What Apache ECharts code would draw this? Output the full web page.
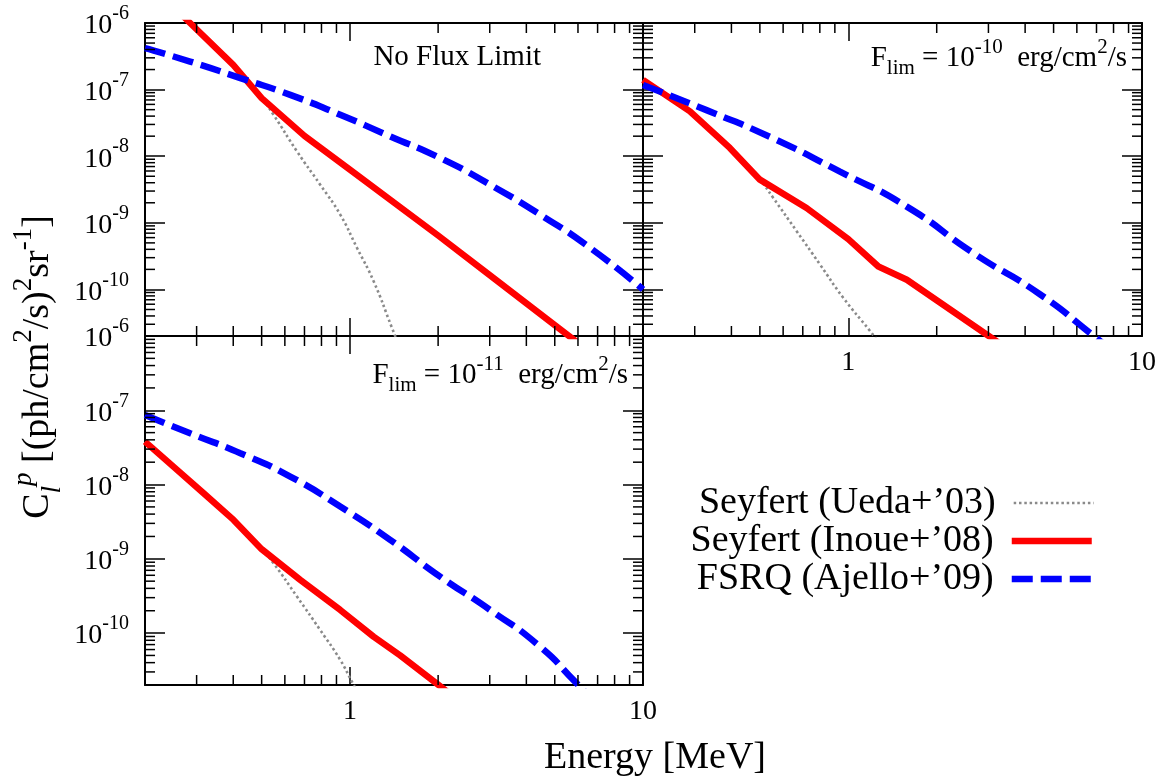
<!DOCTYPE html>
<html><head><meta charset="utf-8">
<script src="https://cdn.jsdelivr.net/npm/echarts@6/dist/echarts.min.js"></script>
<style>html,body{margin:0;padding:0;background:#fff}#c{width:1163px;height:778px}</style>
</head><body><div id="c"></div>
<script>
const FONT = 'Liberation Serif';

// Axis ranges (Energy in MeV, C_l^p)
const X_MIN = 0.2, X_MAX = 10;
const Y_MIN = 2e-11, Y_MAX = 1e-6;

// Legend names
const NAME_UEDA = 'Seyfert (Ueda+\u201903)';
const NAME_INOUE = 'Seyfert (Inoue+\u201908)';
const NAME_AJELLO = 'FSRQ (Ajello+\u201909)';

// Panel titles
const PANEL_TITLES = ['No Flux Limit', '-10', '-11'];

// ---- Panel 1: No Flux Limit ----
const p1UedaE  = [0.2, 0.285, 0.4, 0.5, 0.549, 0.66, 0.792, 0.927, 1.057, 1.204, 1.391, 1.5];
const p1UedaC  = [4.7e-6, 1.0e-6, 2.35e-7, 7.45e-8, 4.19e-8, 1.18e-8, 3.74e-9, 1.33e-9, 4.22e-10, 1.34e-10, 2.67e-11, 1.15e-11];
const p1InoueE = [0.2, 0.285, 0.4, 0.5, 0.7, 1.0, 2.0, 3.0, 5.0, 10];
const p1InoueC = [4.7e-6, 1.0e-6, 2.35e-7, 7.45e-8, 2.02e-8, 6.3e-9, 6.45e-10, 1.64e-10, 2.92e-11, 2.8e-12];
const p1AjelloE = [0.2, 0.285, 0.423, 0.626, 0.927, 1.372, 2.032, 3.008, 4.455, 6.596, 10];
const p1AjelloC = [4.18e-7, 2.64e-7, 1.49e-7, 8.34e-8, 4.19e-8, 1.99e-8, 9.4e-9, 3.74e-9, 1.33e-9, 4.22e-10, 1.0e-10];

// ---- Panel 2: F_lim = 1e-10 ----
const p2UedaE  = [0.2, 0.289, 0.395, 0.5, 0.555, 0.667, 0.801, 0.961, 1.186, 1.3];
const p2UedaC  = [1.4e-7, 4.71e-8, 1.33e-8, 4.45e-9, 2.37e-9, 7.5e-10, 2.37e-10, 7.5e-11, 2.38e-11, 1.4e-11];
const p2InoueE = [0.2, 0.289, 0.395, 0.5, 0.721, 1.0, 1.266, 1.582, 2.965, 4.0];
const p2InoueC = [1.4e-7, 4.71e-8, 1.33e-8, 4.45e-9, 1.67e-9, 5.7e-10, 2.21e-10, 1.40e-10, 2.09e-11, 8.5e-12];
const p2AjelloE = [0.2, 0.329, 0.555, 0.937, 1.582, 2.668, 4.504, 6.76, 8.0];
const p2AjelloC = [1.17e-7, 4.92e-8, 1.85e-8, 5.86e-9, 1.75e-9, 3.51e-10, 8.41e-11, 2.1e-11, 1.15e-11];

// ---- Panel 3: F_lim = 1e-11 ----
const p3UedaE  = [0.2, 0.25, 0.317, 0.401, 0.5, 0.549, 0.66, 0.792, 0.927, 1.016, 1.1];
const p3UedaC  = [3.78e-8, 1.74e-8, 7.64e-9, 3.34e-9, 1.35e-9, 8.7e-10, 3.1e-10, 1.1e-10, 4.36e-11, 2.22e-11, 1.25e-11];
const p3InoueE = [0.2, 0.25, 0.317, 0.401, 0.5, 0.677, 0.927, 1.204, 1.484, 2.005, 3.0];
const p3InoueC = [3.78e-8, 1.74e-8, 7.64e-9, 3.34e-9, 1.35e-9, 5.2e-10, 2.05e-10, 8.97e-11, 5.0e-11, 2.01e-11, 5.8e-12];
const p3AjelloE = [0.2, 0.285, 0.423, 0.626, 0.927, 1.372, 2.032, 3.008, 4.455, 5.864, 7.0];
const p3AjelloC = [8.65e-8, 4.9e-8, 2.64e-8, 1.28e-8, 5.05e-9, 1.8e-9, 5.75e-10, 2.05e-10, 6.58e-11, 2.22e-11, 1.1e-11];

// Minor tick values (gnuplot style 2..9 per decade)
const MINOR_MANT = [2, 3, 4, 5, 6, 7, 8, 9];
const X_DECADES = [0.1, 1];
const Y_DECADES = [1e-11, 1e-10, 1e-9, 1e-8, 1e-7];

const minorX = [], minorY = [];
X_DECADES.forEach(d => MINOR_MANT.forEach(m => { const v = m * d; if (v > X_MIN * 1.0001 && v < X_MAX * 0.9999) minorX.push(v); }));
Y_DECADES.forEach(d => MINOR_MANT.forEach(m => { const v = m * d; if (v > Y_MIN * 1.0001 && v < Y_MAX * 0.9999) minorY.push(v); }));

const grids = [
  { left: 145, top: 23, width: 498, height: 313 },
  { left: 643, top: 23, width: 499, height: 313 },
  { left: 145, top: 336, width: 498, height: 349 }
];
const showXLabel = [false, true, true];
const showYLabel = [true, false, true];

function isDecade(v) { const l = Math.log10(v); return Math.abs(l - Math.round(l)) < 1e-6; }
function fmtY(v) { if (!isDecade(v) || v < Y_MIN * 1.5) return ''; return '{b|10}{s|' + Math.round(Math.log10(v)) + '}'; }
function fmtX(v) { if (!isDecade(v) || v < X_MIN * 1.5) return ''; return String(Math.round(v)); }

const axisLine = { show: true, onZero: false, lineStyle: { color: '#000', width: 2 } };
const xAxes = [], yAxes = [];
grids.forEach((g, i) => {
  ['bottom', 'top'].forEach((pos, k) => {
    xAxes.push({
      type: 'log', logBase: 10, gridIndex: i, position: pos, min: X_MIN, max: X_MAX,
      axisLine, splitLine: { show: false }, minorTick: { show: false },
      axisTick: { show: true, inside: true, length: 18, lineStyle: { color: '#000', width: 1.5 } },
      axisLabel: { show: k === 0 && showXLabel[i], formatter: fmtX, fontFamily: FONT, fontSize: 28, color: '#000', margin: 13, showMinLabel: true, showMaxLabel: true }
    });
  });
  ['left', 'right'].forEach((pos, k) => {
    yAxes.push({
      type: 'log', logBase: 10, gridIndex: i, position: pos, min: Y_MIN, max: Y_MAX,
      axisLine, splitLine: { show: false }, minorTick: { show: false },
      axisTick: { show: true, inside: true, length: 20, lineStyle: { color: '#000', width: 1.5 } },
      axisLabel: {
        show: k === 0 && showYLabel[i], formatter: fmtY, margin: 16, showMinLabel: true, showMaxLabel: true,
        rich: {
          b: { fontFamily: FONT, fontSize: 28, color: '#000', lineHeight: 38, padding: [6, 0, 0, 0] },
          s: { fontFamily: FONT, fontSize: 20, color: '#000', lineHeight: 30, verticalAlign: 'top' }
        }
      }
    });
  });
});

function minorTickSeries(i) {
  const data = minorX.map(v => [v, 1e-8, 0]).concat(minorY.map(v => [1, v, 1]));
  return {
    type: 'custom', xAxisIndex: 2 * i, yAxisIndex: 2 * i, silent: true, z: 5, data,
    renderItem: function (params, api) {
      const cs = params.coordSys;
      const p = api.coord([api.value(0), api.value(1)]);
      const st = { stroke: '#000', lineWidth: 1.5 };
      const L = 10;
      if (api.value(2) === 0) {
        return { type: 'group', children: [
          { type: 'line', shape: { x1: p[0], y1: cs.y + cs.height, x2: p[0], y2: cs.y + cs.height - L }, style: st },
          { type: 'line', shape: { x1: p[0], y1: cs.y, x2: p[0], y2: cs.y + L }, style: st }
        ] };
      }
      return { type: 'group', children: [
        { type: 'line', shape: { x1: cs.x, y1: p[1], x2: cs.x + L, y2: p[1] }, style: st },
        { type: 'line', shape: { x1: cs.x + cs.width, y1: p[1], x2: cs.x + cs.width - L, y2: p[1] }, style: st }
      ] };
    }
  };
}

const STYLE_UEDA = { color: '#8a8a8a', width: 2.6, type: [2.5, 2.8], cap: 'butt' };
const STYLE_INOUE = { color: '#ff0000', width: 6.5, type: 'solid', join: 'round' };
const STYLE_AJELLO = { color: '#0000ff', width: 6.5, type: [21, 8], cap: 'butt' };

function lineSeries(i, name, E, C, style, smooth, z) {
  return {
    type: 'line', name, xAxisIndex: 2 * i, yAxisIndex: 2 * i,
    data: E.map((e, k) => [e, C[k]]), showSymbol: false, symbol: 'none',
    smooth, clip: true, silent: true, z, lineStyle: style, itemStyle: { color: style.color }
  };
}

const panels = [
  [p1UedaE, p1UedaC, p1InoueE, p1InoueC, p1AjelloE, p1AjelloC],
  [p2UedaE, p2UedaC, p2InoueE, p2InoueC, p2AjelloE, p2AjelloC],
  [p3UedaE, p3UedaC, p3InoueE, p3InoueC, p3AjelloE, p3AjelloC]
];
const series = [];
panels.forEach((p, i) => {
  series.push(lineSeries(i, NAME_UEDA, p[0], p[1], STYLE_UEDA, 0.5, 2));
  series.push(lineSeries(i, NAME_INOUE, p[2], p[3], STYLE_INOUE, false, 3));
  series.push(lineSeries(i, NAME_AJELLO, p[4], p[5], STYLE_AJELLO, 0.6, 4));
  series.push(minorTickSeries(i));
});

const legendNames = [NAME_UEDA, NAME_INOUE, NAME_AJELLO];
const legendWidths = [2.6, 6.5, 6.5];
const legends = legendNames.map((n, k) => ({
  data: [n], orient: 'vertical', align: 'right', right: 68, top: 484 + k * 38, padding: 0,
  itemWidth: 80, itemHeight: 14, selectedMode: false,
  lineStyle: { width: legendWidths[k] },
  itemStyle: { opacity: 0, borderWidth: 0 },
  textStyle: { fontFamily: FONT, fontSize: 38, color: '#000', lineHeight: 38, padding: [0, 13, 0, 0] }
}));

const richPanel = {
  n: { fontFamily: FONT, fontSize: 29, fill: '#000', lineHeight: 42 },
  sup: { fontFamily: FONT, fontSize: 21, fill: '#000', lineHeight: 22, verticalAlign: 'top' },
  sub: { fontFamily: FONT, fontSize: 21, fill: '#000', lineHeight: 20, verticalAlign: 'bottom' }
};
function flimText(e) { return '{n|F}{sub|lim}{n| = 10}{sup|' + e + '}{n|  erg/cm}{sup|2}{n|/s}'; }

const richTitle = {
  n: { fontFamily: FONT, fontSize: 38, fill: '#000', lineHeight: 56 },
  it: { fontFamily: FONT, fontStyle: 'italic', fontSize: 27, fill: '#000', lineHeight: 24, verticalAlign: 'bottom' },
  itp: { fontFamily: FONT, fontStyle: 'italic', fontSize: 27, fill: '#000', lineHeight: 30, verticalAlign: 'top' },
  sup: { fontFamily: FONT, fontSize: 27, fill: '#000', lineHeight: 30, verticalAlign: 'top' }
};

const graphic = [
  { type: 'text', x: 541, y: 57, style: { text: '{n|' + PANEL_TITLES[0] + '}', rich: richPanel, align: 'right', verticalAlign: 'middle' } },
  { type: 'text', x: 1127, y: 58, style: { text: flimText(PANEL_TITLES[1]), rich: richPanel, align: 'right', verticalAlign: 'middle' } },
  { type: 'text', x: 628, y: 375, style: { text: flimText(PANEL_TITLES[2]), rich: richPanel, align: 'right', verticalAlign: 'middle' } },
  { type: 'text', x: 655, y: 758, style: { text: 'Energy [MeV]', fontFamily: FONT, fontSize: 38, fill: '#000', align: 'center', verticalAlign: 'middle' } },
  { type: 'text', x: 38, y: 367, rotation: Math.PI / 2,
    style: { text: '{n|C}{it|l}{itp|p}{n| [(ph/cm}{sup|2}{n|/s)}{sup|2}{n|sr}{sup|-1}{n|]}', rich: richTitle, align: 'center', verticalAlign: 'middle' } }
];

const chart = echarts.init(document.getElementById('c'), null, { renderer: 'canvas' });
chart.setOption({
  backgroundColor: '#fff', animation: false,
  grid: grids, xAxis: xAxes, yAxis: yAxes, series, legend: legends, graphic
});
</script></body></html>
